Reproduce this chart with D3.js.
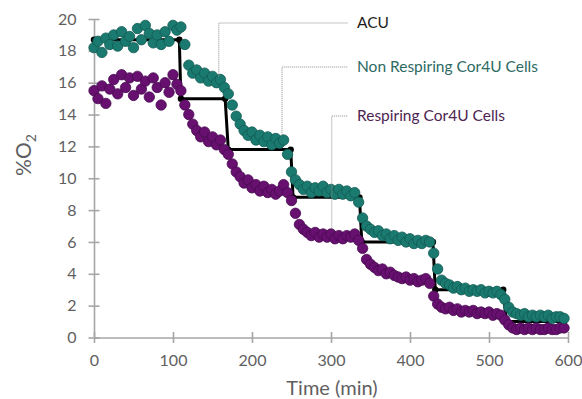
<!DOCTYPE html>
<html>
<head>
<meta charset="utf-8">
<script src="https://cdn.jsdelivr.net/npm/d3@7"></script>
<style>
  html, body { margin: 0; padding: 0; background: #fff; }
  svg { display: block; }
</style>
</head>
<body>
<div id="chart"></div>
<script>
// data
const sampleTime = [
  0, 5, 10, 15, 20, 25, 30, 35, 40, 45, 50, 55, 60, 65, 70, 75, 80, 85, 90, 95,
  100, 105, 110, 115, 120, 125, 130, 135, 140, 145, 150, 155, 160, 165, 170, 175, 180, 185, 190, 195,
  200, 205, 210, 215, 220, 225, 230, 235, 240, 245, 250, 255, 260, 265, 270, 275, 280, 285, 290, 295,
  300, 305, 310, 315, 320, 325, 330, 335, 340, 345, 350, 355, 360, 365, 370, 375, 380, 385, 390, 395,
  400, 405, 410, 415, 420, 425, 430, 435, 440, 445, 450, 455, 460, 465, 470, 475, 480, 485, 490, 495,
  500, 505, 510, 515, 520, 525, 530, 535, 540, 545, 550, 555, 560, 565, 570, 575, 580, 585, 590, 595
];
const nonRespiring = [
  18.2, 18.6, 17.9, 18.8, 18.4, 19.0, 18.3, 19.2, 18.6, 18.9, 18.2, 19.4, 18.7, 19.6, 19.1, 18.5, 19.0, 18.4, 19.2, 18.6,
  19.6, 19.3, 19.5, 18.4, 17.1, 16.6, 16.8, 16.3, 16.6, 16.1, 16.4, 16.0, 16.2, 15.7, 15.3, 14.6, 13.9, 13.4, 13.0, 12.7,
  12.9, 12.4, 12.7, 12.3, 12.6, 12.1, 12.5, 12.2, 12.4, 11.5, 10.4, 9.9, 9.6, 9.3, 9.5, 9.1, 9.4, 9.2, 9.5, 9.1,
  9.3, 9.0, 9.3, 9.0, 9.2, 8.9, 9.1, 8.5, 7.5, 7.0, 6.8, 6.6, 6.7, 6.4, 6.5, 6.2, 6.4, 6.1, 6.3, 6.0,
  6.2, 5.9, 6.1, 5.9, 6.1, 6.0, 5.3, 4.3, 3.6, 3.4, 3.3, 3.1, 3.2, 3.0, 3.1, 2.9, 3.0, 2.9, 3.0, 2.8,
  2.9, 2.8, 2.9, 2.7, 2.4, 1.9, 1.6, 1.5, 1.4, 1.5, 1.3, 1.4, 1.3, 1.4, 1.3, 1.4, 1.2, 1.3, 1.3, 1.2
];
const respiring = [
  15.5, 15.0, 15.8, 14.7, 15.6, 16.2, 15.3, 16.5, 15.7, 16.3, 15.2, 16.4, 15.6, 16.1, 15.1, 16.3, 15.7, 14.6, 16.0, 15.4,
  16.5, 15.9, 15.5, 14.6, 14.0, 13.4, 13.0, 12.6, 12.9, 12.3, 12.6, 12.1, 12.4, 11.8, 11.5, 10.9, 10.4, 10.1, 9.7, 9.9,
  9.4, 9.6, 9.2, 9.5, 9.1, 9.3, 9.0, 9.2, 9.6, 9.1, 8.6, 7.8, 7.1, 6.8, 6.6, 6.4, 6.6, 6.3, 6.5, 6.3,
  6.5, 6.2, 6.4, 6.2, 6.4, 6.3, 6.5, 6.1, 5.6, 4.9, 4.6, 4.4, 4.2, 4.3, 4.0, 4.1, 3.9, 3.8, 3.7, 3.8,
  3.6, 3.7, 3.5, 3.6, 3.7, 3.4, 2.6, 2.1, 1.9, 1.8, 1.9, 1.7, 1.8, 1.6, 1.7, 1.6, 1.7, 1.5, 1.6, 1.5,
  1.6, 1.4, 1.5, 1.4, 1.1, 0.8, 0.6, 0.5, 0.6, 0.5, 0.6, 0.5, 0.6, 0.5, 0.5, 0.6, 0.5, 0.5, 0.6, 0.6
];
const acuTime = [0, 108, 110, 166, 170, 249, 252, 336, 339, 429, 432, 518, 522, 595];
const acuO2 = [18.7, 18.7, 15.0, 15.0, 11.8, 11.8, 8.8, 8.8, 6.0, 6.0, 3.0, 3.0, 1.0, 1.0];
const xTicks = [0, 100, 200, 300, 400, 500, 600];
const yTicks = [0, 2, 4, 6, 8, 10, 12, 14, 16, 18, 20];

const config = {
  width: 582,
  height: 399,
  margin: { left: 94, right: 14, top: 19, bottom: 61.5 },
  axis: { color: '#a6a6a6', width: 1.6, tick: 5.5 },
  font: 'Lato, "Open Sans", sans-serif',
  teal: { fill: '#1b7a70', stroke: '#105a52' },
  purple: { fill: '#67106f', stroke: '#480a50' },
  dot: 5.2,
};

const svg = d3.select('#chart').append('svg')
  .attr('width', config.width)
  .attr('height', config.height);

const x = d3.scaleLinear().domain([0, 600])
  .range([config.margin.left, config.width - config.margin.right]);
const y = d3.scaleLinear().domain([0, 20])
  .range([config.height - config.margin.bottom, config.margin.top]);

// axes
const yAxis = svg.append('g')
  .attr('transform', `translate(${x(0)},0)`)
  .call(d3.axisLeft(y).tickValues(yTicks).tickSizeInner(config.axis.tick).tickSizeOuter(0).tickPadding(12));
const xAxis = svg.append('g')
  .attr('transform', `translate(0,${y(0)})`)
  .call(d3.axisBottom(x).tickValues(xTicks).tickSizeInner(config.axis.tick).tickSizeOuter(0).tickPadding(12));

[xAxis, yAxis].forEach(a => {
  a.select('.domain').attr('stroke', config.axis.color).attr('stroke-width', config.axis.width);
  a.selectAll('.tick line')
    .attr('stroke', config.axis.color)
    .attr('stroke-width', config.axis.width);
  a.selectAll('.tick text')
    .attr('fill', '#5f5f5f')
    .attr('font-family', config.font)
    .attr('font-size', 16);
});
// ticks cross the axis line
yAxis.selectAll('.tick line').attr('x1', config.axis.tick);
xAxis.selectAll('.tick line').attr('y1', -config.axis.tick);

// axis titles
svg.append('text')
  .attr('x', 332).attr('y', 395)
  .attr('text-anchor', 'middle')
  .attr('font-family', config.font)
  .attr('font-size', 20)
  .attr('fill', '#5f5f5f')
  .text('Time (min)');

const yTitle = svg.append('text')
  .attr('transform', 'translate(31,155) rotate(-90)')
  .attr('text-anchor', 'middle')
  .attr('font-family', config.font)
  .attr('font-size', 21)
  .attr('fill', '#5f5f5f');
yTitle.append('tspan').text('%O');
yTitle.append('tspan').attr('font-size', 14).attr('dy', 5).text('2');

// ACU stepped line
const acu = acuTime.map((t, i) => ({ t, v: acuO2[i] }));
svg.append('path')
  .datum(acu)
  .attr('fill', 'none')
  .attr('stroke', '#000')
  .attr('stroke-width', 3)
  .attr('d', d3.line().x(d => x(d.t)).y(d => y(d.v)));
svg.selectAll('.acu')
  .data(acu)
  .enter().append('circle')
  .attr('class', 'acu')
  .attr('cx', d => x(d.t)).attr('cy', d => y(d.v))
  .attr('r', 3.2)
  .attr('fill', '#000');

// cell series
function drawDots(values, style, cls) {
  svg.selectAll('.' + cls)
    .data(sampleTime.map((t, i) => ({ t, v: values[i] })))
    .enter().append('circle')
    .attr('class', cls)
    .attr('cx', d => x(d.t)).attr('cy', d => y(d.v))
    .attr('r', config.dot)
    .attr('fill', style.fill)
    .attr('stroke', style.stroke)
    .attr('stroke-width', 0.8);
}
drawDots(respiring, config.purple, 'resp');
drawDots(nonRespiring, config.teal, 'nonresp');

// callouts
const callouts = [
  { label: 'ACU', color: '#1e1e1e', t: 158, v: 16.4, ly: 23 },
  { label: 'Non Respiring Cor4U Cells', color: '#2e6a63', t: 238, v: 12.7, ly: 67 },
  { label: 'Respiring Cor4U Cells', color: '#4e2452', t: 301, v: 6.9, ly: 116 },
];
callouts.forEach(c => {
  svg.append('path')
    .attr('d', `M${x(c.t)},${y(c.v)}V${c.ly}H348`)
    .attr('fill', 'none')
    .attr('stroke', '#8c8c8c')
    .attr('stroke-width', 1)
    .attr('stroke-dasharray', '1,1');
  svg.append('text')
    .attr('x', 357).attr('y', c.ly + 5)
    .attr('font-family', config.font)
    .attr('font-size', 15.5)
    .attr('fill', c.color)
    .text(c.label);
});
</script>
</body>
</html>
